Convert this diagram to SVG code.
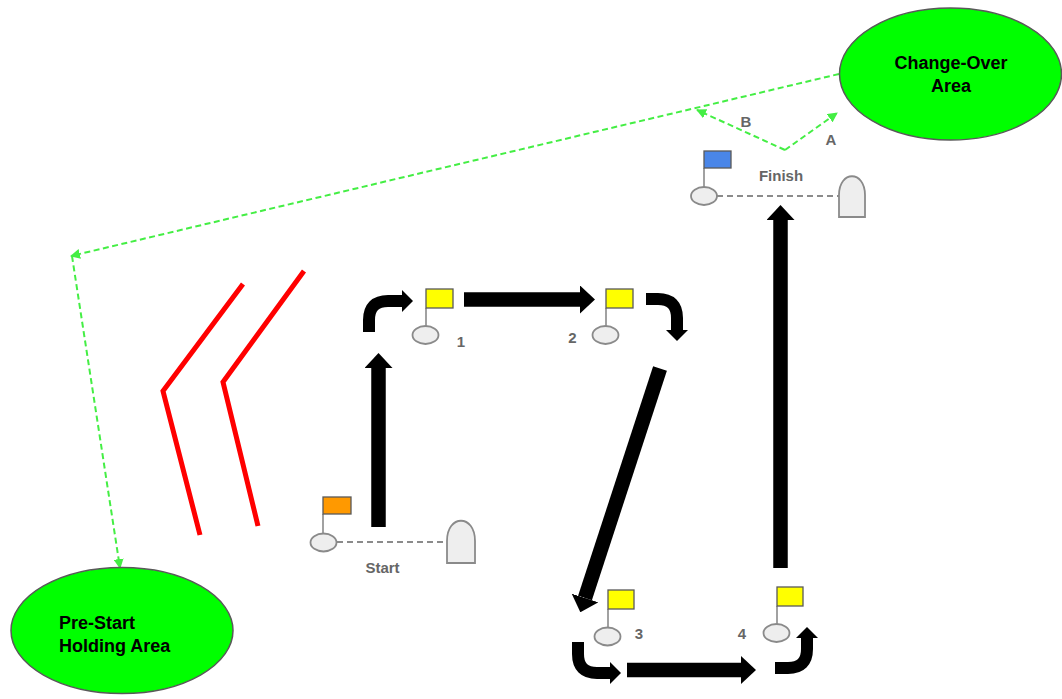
<svg xmlns="http://www.w3.org/2000/svg" width="1062" height="699" viewBox="0 0 1062 699">
  <style>
    text { font-family: "Liberation Sans", Arial, sans-serif; font-weight: bold; }
    .area { fill: #00ff00; stroke: #595959; stroke-width: 1.5; }
    .area-label { font-size: 18px; fill: #000; }
    .label { font-size: 15px; fill: #666; }
    .flag { stroke: #595959; stroke-width: 1.3; }
    .pole { stroke: #8a8a8a; stroke-width: 1.6; fill: none; }
    .buoy { fill: #eeeeee; stroke: #8a8a8a; stroke-width: 1.8; }
    .gate { stroke: #666; stroke-width: 1.5; stroke-dasharray: 6 4; fill: none; }
    .thick { fill: none; stroke: #000; }
    .big { stroke-width: 14.500; marker-end: url(#bigHead); }
    .bend { stroke-width: 12; marker-end: url(#bendHead); }
    .route { fill: none; stroke: #44ee44; stroke-width: 2; stroke-dasharray: 6 3.500; marker-end: url(#greenHead); }
    .barrier { fill: none; stroke: #ff0000; stroke-width: 5; }
  </style>
  <defs>
    <marker id="bigHead" viewBox="0 0 15 28" refX="0" refY="14" markerWidth="15" markerHeight="28" markerUnits="userSpaceOnUse" orient="auto">
      <polygon points="0,0 15,14 0,28" fill="#000"/>
    </marker>
    <marker id="bendHead" viewBox="0 0 11 22" refX="0" refY="11" markerWidth="11" markerHeight="22" markerUnits="userSpaceOnUse" orient="auto">
      <polygon points="0,0 11,11 0,22" fill="#000"/>
    </marker>
    <marker id="greenHead" viewBox="0 0 10 10" refX="9" refY="5" markerWidth="10" markerHeight="10" markerUnits="userSpaceOnUse" orient="auto">
      <polygon points="0,0 10,5 0,10" fill="#44ee44"/>
    </marker>
  </defs>
  <rect width="1062" height="699" fill="#fff"/>

  <g id="connectors">
    <path class="route" d="M839 74 L71 256"/>
    <path class="route" d="M72 256 L120 568"/>
    <path class="route" d="M785 150 L697 110"/>
    <path class="route" d="M785 150 L837 113"/>
    <path class="thick big" d="M378.500 527 V368"/>
    <path class="thick big" d="M464 299.500 H580"/>
    <path class="thick big" d="M660 368.500 L585 598"/>
    <path class="thick big" d="M627 670 H741"/>
    <path class="thick big" d="M780.500 568 V220"/>
    <path class="thick bend" d="M369 332 V320 Q369 301 388 301 H402"/>
    <path class="thick bend" d="M646 299 H658 Q677 299 677 318 V330"/>
    <path class="thick bend" d="M578 642 V654 Q578 673 597 673 H610"/>
    <path class="thick bend" d="M775 668 H788 Q807 668 807 649 V638"/>
  </g>

  <g id="barrier-1"><polyline class="barrier" points="243,284 163,391 200,535"/></g>
  <g id="barrier-2"><polyline class="barrier" points="304,271 223,382 258,526"/></g>

  <g id="change-over-area">
    <ellipse class="area" cx="950.500" cy="74" rx="111" ry="66"/>
    <text class="area-label" x="951" y="69" text-anchor="middle">Change-Over</text>
    <text class="area-label" x="951" y="92" text-anchor="middle">Area</text>
  </g>
  <g id="pre-start-area">
    <ellipse class="area" cx="122" cy="630.500" rx="111" ry="63"/>
    <text class="area-label" x="59" y="629">Pre-Start</text>
    <text class="area-label" x="59" y="652">Holding Area</text>
  </g>

  <g id="start-line">
    <line class="gate" x1="337" y1="542" x2="447" y2="542"/>
    <line class="pole" x1="323" y1="514" x2="323" y2="533"/>
    <rect class="flag" x="323" y="497" width="28" height="17" fill="#ff9900"/>
    <ellipse class="buoy" cx="323.500" cy="542.500" rx="13" ry="9"/>
    <path class="buoy" d="M447 563 V541 C447 514 475 514 475 541 V563 Z"/>
    <text class="label" x="382.500" y="573" text-anchor="middle">Start</text>
  </g>
  <g id="finish-line">
    <line class="gate" x1="717" y1="196" x2="839" y2="196"/>
    <line class="pole" x1="704" y1="168" x2="704" y2="187"/>
    <rect class="flag" x="704" y="151" width="27" height="17" fill="#4a86e8"/>
    <ellipse class="buoy" cx="704" cy="196" rx="13" ry="9"/>
    <path class="buoy" d="M839 217 V195 C839 170 865 170 865 195 V217 Z"/>
    <text class="label" x="781" y="181" text-anchor="middle">Finish</text>
  </g>
  <g id="mark-1">
    <line class="pole" x1="426" y1="308" x2="426" y2="326"/>
    <rect class="flag" x="426" y="289" width="27" height="19" fill="#ffff00"/>
    <ellipse class="buoy" cx="425.500" cy="335" rx="13" ry="9"/>
    <text class="label" x="461" y="347" text-anchor="middle">1</text>
  </g>
  <g id="mark-2">
    <line class="pole" x1="606" y1="308" x2="606" y2="326"/>
    <rect class="flag" x="606" y="289" width="27" height="19" fill="#ffff00"/>
    <ellipse class="buoy" cx="605.500" cy="335" rx="13" ry="9"/>
    <text class="label" x="572.500" y="343" text-anchor="middle">2</text>
  </g>
  <g id="mark-3">
    <line class="pole" x1="608" y1="609" x2="608" y2="627"/>
    <rect class="flag" x="608" y="590" width="26" height="19" fill="#ffff00"/>
    <ellipse class="buoy" cx="607.500" cy="636.500" rx="13" ry="9"/>
    <text class="label" x="639" y="639" text-anchor="middle">3</text>
  </g>
  <g id="mark-4">
    <line class="pole" x1="777" y1="606" x2="777" y2="624"/>
    <rect class="flag" x="777" y="587" width="26" height="19" fill="#ffff00"/>
    <ellipse class="buoy" cx="776.500" cy="633" rx="13" ry="9"/>
    <text class="label" x="742" y="639" text-anchor="middle">4</text>
  </g>
  <g id="route-labels">
    <text class="label" x="746" y="127" text-anchor="middle">B</text>
    <text class="label" x="831" y="145" text-anchor="middle">A</text>
  </g>
</svg>
